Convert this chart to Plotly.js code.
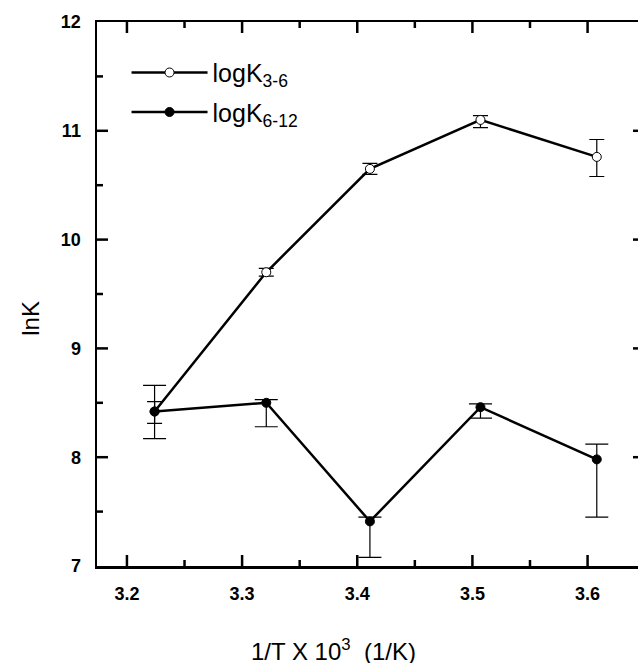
<!DOCTYPE html>
<html>
<head>
<meta charset="utf-8">
<script src="https://cdn.plot.ly/plotly-3.0.1.min.js"></script>
<style>
html, body { margin: 0; padding: 0; overflow: hidden; background: #fff; }
#chart { width: 644px; height: 663px; }
</style>
</head>
<body>
<div id="chart"></div>
<script>
// 1/T x 10^3 (1/K)
var invT = [3.224, 3.321, 3.411, 3.507, 3.608];

// logK 3-6 (open circles)
var logK36 = [8.42, 9.70, 10.65, 11.10, 10.76];
var logK36ErrPlus = [0.09, 0.035, 0.05, 0.04, 0.16];
var logK36ErrMinus = [0.11, 0.035, 0.05, 0.07, 0.18];

// logK 6-12 (filled circles)
var logK612 = [8.42, 8.50, 7.41, 8.46, 7.98];
var logK612ErrPlus = [0.24, 0.03, 0.04, 0.03, 0.14];
var logK612ErrMinus = [0.25, 0.22, 0.33, 0.10, 0.53];

var seriesNames = ['logK<sub>3-6</sub>', 'logK<sub>6-12</sub>'];

// axis tick values
var xMajorTicks = [3.2, 3.3, 3.4, 3.5, 3.6];
var xMinorTicks = [3.25, 3.35, 3.45, 3.55, 3.65];
var yMajorTicks = [8, 9, 10, 11];
var yMinorTicks = [7.5, 8.5, 9.5, 10.5, 11.5];

var FONT = 'Arial, Liberation Sans, sans-serif';

var traces = [
  {
    x: invT, y: logK36, name: seriesNames[0], legendgroup: 'a', type: 'scatter', mode: 'lines+markers',
    line: {color: '#000', width: 2.5},
    marker: {symbol: 'circle', size: 9, color: '#fff', line: {color: '#000', width: 1}},
    error_y: {type: 'data', symmetric: false, array: logK36ErrPlus, arrayminus: logK36ErrMinus,
              color: '#000', thickness: 1.2, width: 7.5}
  },
  {
    x: invT, y: logK612, name: seriesNames[1], legendgroup: 'b', type: 'scatter', mode: 'lines+markers',
    line: {color: '#000', width: 2.5},
    marker: {symbol: 'circle', size: 9, color: '#000', line: {color: '#000', width: 1}},
    error_y: {type: 'data', symmetric: false, array: logK612ErrPlus, arrayminus: logK612ErrMinus,
              color: '#000', thickness: 1.2, width: 11.5}
  }
];

// tick marks drawn inside the frame on all four sides
var shapes = [];
function xTick(v, len) {
  var ln = {color: '#000', width: 2.5};
  shapes.push({type: 'line', xref: 'x', yref: 'paper', ysizemode: 'pixel', yanchor: 0,
               x0: v, x1: v, y0: 0, y1: len, line: ln, layer: 'above'});
  shapes.push({type: 'line', xref: 'x', yref: 'paper', ysizemode: 'pixel', yanchor: 1,
               x0: v, x1: v, y0: 0, y1: -len, line: ln, layer: 'above'});
}
function yTick(v, len) {
  var ln = {color: '#000', width: 2.5};
  shapes.push({type: 'line', xref: 'paper', yref: 'y', xsizemode: 'pixel', xanchor: 0,
               x0: 0, x1: len, y0: v, y1: v, line: ln, layer: 'above'});
  shapes.push({type: 'line', xref: 'paper', yref: 'y', xsizemode: 'pixel', xanchor: 1,
               x0: 0, x1: -len, y0: v, y1: v, line: ln, layer: 'above'});
}
xMajorTicks.forEach(function (v) { xTick(v, 11); });
xMinorTicks.forEach(function (v) { xTick(v, 6); });
yMajorTicks.forEach(function (v) { yTick(v, 11); });
yMinorTicks.forEach(function (v) { yTick(v, 6); });

var layout = {
  width: 644, height: 663,
  margin: {l: 97, r: 0, t: 22, b: 97},
  paper_bgcolor: '#fff', plot_bgcolor: '#fff',
  showlegend: true,
  legend: {
    x: 0.054, y: 0.949, xanchor: 'left', yanchor: 'top',
    bgcolor: 'rgba(0,0,0,0)', borderwidth: 0,
    font: {family: FONT, size: 25, color: '#000'},
    itemwidth: 76, tracegroupgap: 4
  },
  xaxis: {
    range: [3.174, 3.649], tickvals: xMajorTicks, tickformat: '.1f',
    showline: true, linecolor: '#000', linewidth: 2.5, mirror: true,
    ticks: '', showgrid: false, zeroline: false, ticklabelstandoff: 10,
    tickfont: {family: FONT, size: 18, color: '#000', weight: 'bold'}
  },
  yaxis: {
    range: [7, 12], dtick: 1, tick0: 7,
    showline: true, linecolor: '#000', linewidth: 2.5, mirror: true,
    ticks: '', showgrid: false, zeroline: false, ticklabelstandoff: 10,
    tickfont: {family: FONT, size: 18, color: '#000', weight: 'bold'}
  },
  shapes: shapes,
  annotations: [
    {
      text: '1/T X 10<sup>3</sup>\u00a0\u00a0(1/K)', xref: 'paper', yref: 'paper',
      x: 0.433, y: -0.154, xanchor: 'center', yanchor: 'middle', showarrow: false,
      font: {family: FONT, size: 24, color: '#000'}
    },
    {
      text: 'lnK', xref: 'paper', yref: 'paper', textangle: -90,
      x: -0.121, y: 0.456, xanchor: 'center', yanchor: 'middle', showarrow: false,
      font: {family: FONT, size: 24, color: '#000'}
    }
  ]
};

Plotly.newPlot('chart', traces, layout, {displayModeBar: false, staticPlot: true});
</script>
</body>
</html>
